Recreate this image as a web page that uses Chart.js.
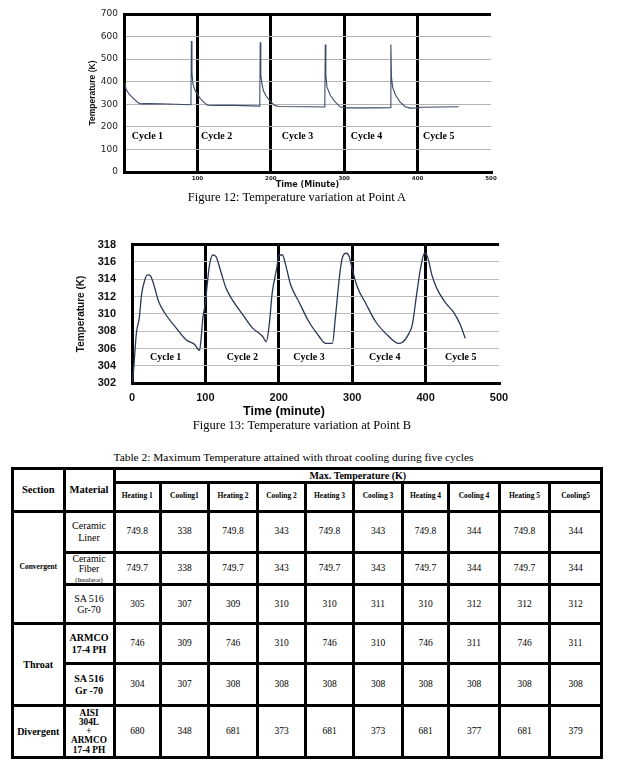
<!DOCTYPE html>
<html>
<head>
<meta charset="utf-8">
<script src="https://cdn.jsdelivr.net/npm/chart.js@4.4.1/dist/chart.umd.min.js"></script>
<style>
  html,body{margin:0;padding:0;background:#fff;}
  body{width:620px;height:764px;position:relative;overflow:hidden;}
  canvas{position:absolute;left:0;}
  .cap{position:absolute;text-align:center;font-family:'Liberation Serif','Times New Roman',serif;white-space:nowrap;color:#000;}
  table{position:absolute;left:11px;top:467px;border-collapse:collapse;table-layout:fixed;font-family:'Liberation Serif','Times New Roman',serif;color:#000;}
  td{border:3px solid #000;text-align:center;vertical-align:middle;padding:0;line-height:1.15;overflow:hidden;}
  .hd{font-weight:bold;font-size:7.5px;}
  .big{font-weight:bold;font-size:10.5px;}
  .val{font-size:9.5px;}
  .mat{font-size:10px;}
  .small{font-size:6.5px;}
</style>
</head>
<body>
<canvas id="chartA" width="620" height="192" style="top:0px"></canvas>
<div class="cap" style="left:0;width:594px;top:190px;font-size:12.5px;line-height:14px;">Figure 12: Temperature variation at Point A</div>
<canvas id="chartB" width="620" height="200" style="top:222px"></canvas>
<div class="cap" style="left:0;width:604px;top:418px;font-size:12.5px;line-height:14px;">Figure 13: Temperature variation at Point B</div>
<div class="cap" style="left:0;width:587px;top:451px;font-size:11.4px;line-height:13px;">Table 2: Maximum Temperature attained with throat cooling during five cycles</div>
<table id="tbl"></table>
<script>
// ---------- Data: Figure 12 (Point A) ----------
const timeA = [1,3,7,12,18,22,30,50,70,91.2,
  91.8,92.6,94,96,98,100,103,106,110,114,125,150,175,185,
  185.6,186.4,188,190,193,196,200,205,210,250,273.6,
  274.2,275,276.5,281,287.6,294.4,300,305,340,363,
  363.6,364.4,366,370,376,383,390,398,405,430,455.7];
const tempA = [395,365,345,328,310,302,303,302,300,298,
  580,440,390,368,355,345,330,318,305,296,295,295,293,292,
  575,430,390,360,340,326,311,296,290,289,288,
  565,430,377,340,311,289,285,284,284,285,
  565,420,375,340,311,289,283,284,287,288,289];
const ticksA = [0,100,200,300,400,500];

// ---------- Data: Figure 13 (Point B) ----------
const timeB = [1,3,6,10,13,17,21,25,31,36,
  44,60,74,85,92,94,96.5,100,102,105.5,
  110,114.5,121,128,137,151,164,178,183,187,
  191,197,200.5,205,209.5,216,228,241,255,264,
  273,277,282,286,292,296,300,307,318,332,
  350,363,368,377,382,388,393,398.5,403,408.5,
  415,427,438,447,454];
const tempB = [302.2,304.5,307.8,309.6,312.2,313.8,314.5,314.4,313,311.5,
  310.2,308.4,307,306.5,305.8,307,309.5,311.3,313,315.6,
  316.8,316.6,314.9,313,311.6,309.9,308.4,307.4,306.8,308.8,
  312.4,315.2,316.8,316.8,315.6,313.4,311.3,309.1,307.4,306.6,
  306.6,309.5,313.8,316.3,317,316.6,315.2,313.1,311.3,309.1,
  307.4,306.6,306.7,307.7,308.8,312.4,315.2,317,316.5,314.5,
  313,311.3,310.2,308.8,307.2];

const cycleNames = ["Cycle 1","Cycle 2","Cycle 3","Cycle 4","Cycle 5"];
const cycleBounds = [100,200,300,400];

// ---------- Data: Table 2 ----------
const tableGroupHeader = "Max. Temperature (K)";
const phaseHeaders = ["Heating 1","Cooling1","Heating 2","Cooling 2","Heating 3","Cooling 3","Heating 4","Cooling 4","Heating 5","Cooling5"];
const sections = ["Convergent","Throat","Divergent"];
const sectionRows = [3,2,1];
const materials = [["Ceramic","Liner"],["Ceramic","Fiber","(Insulator)"],["SA 516","Gr-70"],["ARMCO","17-4 PH"],["SA 516","Gr -70"],["AISI","304L","+","ARMCO","17-4 PH"]];
const maxTemps = [
  ["749.8","338","749.8","343","749.8","343","749.8","344","749.8","344"],
  ["749.7","338","749.7","343","749.7","343","749.7","344","749.7","344"],
  ["305","307","309","310","310","311","310","312","312","312"],
  ["746","309","746","310","746","310","746","311","746","311"],
  ["304","307","308","308","308","308","308","308","308","308"],
  ["680","348","681","373","681","373","681","377","681","379"]
];

// ---------- Plugin: cycle labels & custom axis title ----------
const overlayText = {
  id: 'overlayText',
  afterDatasetsDraw(chart, args, opts) {
    const {ctx, scales:{x,y}, chartArea} = chart;
    ctx.save();
    ctx.fillStyle = '#000';
    ctx.font = opts.font;
    ctx.textAlign = 'left';
    ctx.textBaseline = 'middle';
    cycleNames.forEach((t,i) => {
      ctx.fillText(t, x.getPixelForValue(opts.xs[i]), y.getPixelForValue(opts.y));
    });
    if (opts.xTitle) {
      ctx.font = opts.xTitle.font;
      ctx.textAlign = 'center';
      ctx.fillText(opts.xTitle.text, chartArea.left + opts.xTitle.frac*(chartArea.right-chartArea.left), chartArea.bottom + opts.xTitle.dy);
    }
    ctx.restore();
  }
};

function gridStyle(boundsSet){
  return {
    color: c => boundsSet.includes(c.tick.value) ? '#000' : 'rgba(0,0,0,0)',
    lineWidth: 3,
    drawTicks: false
  };
}

// ---------- Chart A ----------
new Chart(document.getElementById('chartA'), {
  type: 'line',
  data: { datasets: [{
    data: timeA.map((t,i)=>({x:t, y:tempA[i]})),
    borderColor: '#3c4a6a', borderWidth: 1.1, pointRadius: 0, tension: 0, fill: false
  }]},
  options: {
    responsive: false, animation: false, devicePixelRatio: 1,
    layout: { padding: { left: 85, top: 14, right: 129, bottom: 2 } },
    plugins: { legend:{display:false}, tooltip:{enabled:false},
      overlayText: { font: 'bold 10px "Liberation Serif", serif', xs: [10.5,104.8,215,309,407.5], y: 158 } },
    scales: {
      x: { type:'linear', min:0, max:500,
        afterBuildTicks: s => { s.ticks = ticksA.map(v=>({value:v})); },
        afterFit: s => { s.height = 18; },
        ticks: { padding: 3, font:{family:'"DejaVu Sans", sans-serif', size:5.5, weight:'bold'}, color:'#222',
          callback: v => v === 0 ? '' : v, maxRotation:0, autoSkip:false },
        grid: gridStyle(cycleBounds),
        border: { display:true, color:'#000', width:3 },
        title: { display:true, text:'Time (Minute)', padding:{top:0,bottom:0},
          font:{family:'"DejaVu Sans", sans-serif', size:8, weight:'bold'}, color:'#111' }
      },
      y: { min:0, max:700,
        ticks: { stepSize:100, padding:6, font:{family:'"DejaVu Sans", sans-serif', size:9}, color:'#222' },
        afterFit: s => { s.width = 39; },
        grid: { drawTicks:false,
          color: c => (c.tick.value === 700 || c.tick.value === 0) ? '#000' : '#b4b4b4',
          lineWidth: c => (c.tick.value === 700 || c.tick.value === 0) ? 3 : 1 },
        border: { display:true, color:'#000', width:3 },
        title: { display:true, text:'Temperature (K)', padding:{top:3,bottom:0},
          font:{family:'"Liberation Sans", Arial, sans-serif', size:8.5, weight:'bold'}, color:'#111' }
      }
    }
  },
  plugins: [overlayText]
});

// ---------- Chart B ----------
new Chart(document.getElementById('chartB'), {
  type: 'line',
  data: { datasets: [{
    data: timeB.map((t,i)=>({x:t, y:tempB[i]})),
    borderColor: '#2b3659', borderWidth: 1.3, pointRadius: 0, cubicInterpolationMode: 'monotone', fill: false
  }]},
  options: {
    responsive: false, animation: false, devicePixelRatio: 1,
    layout: { padding: { left: 75, top: 12, right: 121, bottom: 2.7 } },
    plugins: { legend:{display:false}, tooltip:{enabled:false},
      overlayText: { font: 'bold 10px "Liberation Serif", serif', xs: [24.5,129,219.8,323,426.5], y: 305,
        xTitle: { text:'Time (minute)', font:'bold 12.5px "Liberation Sans", Arial, sans-serif', frac:0.414, dy:28.4 } } },
    scales: {
      x: { type:'linear', min:0, max:500,
        afterBuildTicks: s => { s.ticks = ticksA.map(v=>({value:v})); },
        afterFit: s => { s.height = 36; },
        ticks: { padding: 8, font:{family:'"Liberation Sans", Arial, sans-serif', size:11, weight:'bold'}, color:'#111', maxRotation:0, autoSkip:false },
        grid: gridStyle(cycleBounds),
        border: { display:true, color:'#000', width:3 },
        title: { display:false }
      },
      y: { min:302, max:318,
        ticks: { stepSize:2, padding:16, font:{family:'"Liberation Sans", Arial, sans-serif', size:11, weight:'bold'}, color:'#111' },
        afterFit: s => { s.width = 57; },
        grid: { drawTicks:false,
          color: c => (c.tick.value === 318 || c.tick.value === 302) ? '#000' : '#bdbdbd',
          lineWidth: c => (c.tick.value === 318 || c.tick.value === 302) ? 3 : 1 },
        border: { display:true, color:'#000', width:3 },
        title: { display:true, text:'Temperature (K)', padding:{top:0.7,bottom:0},
          font:{family:'"Liberation Sans", Arial, sans-serif', size:10, weight:'bold'}, color:'#111' }
      }
    }
  },
  plugins: [overlayText]
});

// ---------- Table 2 ----------
(function buildTable(){
  const colW = [51.5,50,46.5,48,49,48,48,49,46,51,50,52];
  const rowH = [14,28.5,41.5,32,39,40,42,52];
  const tbl = document.getElementById('tbl');
  const cg = document.createElement('colgroup');
  colW.forEach(w => { const c = document.createElement('col'); c.style.width = w+'px'; cg.appendChild(c); });
  tbl.appendChild(cg);
  tbl.style.width = colW.reduce((a,b)=>a+b,0)+'px';

  const tr1 = document.createElement('tr'); tr1.style.height = rowH[0]+'px';
  const th1 = document.createElement('td'); th1.rowSpan = 2; th1.className='big'; th1.textContent='Section'; tr1.appendChild(th1);
  const th2 = document.createElement('td'); th2.rowSpan = 2; th2.className='big'; th2.textContent='Material'; tr1.appendChild(th2);
  const th3 = document.createElement('td'); th3.colSpan = phaseHeaders.length; th3.className='big'; th3.style.fontSize='10px'; th3.style.lineHeight='1'; th3.textContent=tableGroupHeader; tr1.appendChild(th3);
  tbl.appendChild(tr1);

  const tr2 = document.createElement('tr'); tr2.style.height = rowH[1]+'px';
  phaseHeaders.forEach(h => { const td = document.createElement('td'); td.className='hd'; td.textContent=h; tr2.appendChild(td); });
  tbl.appendChild(tr2);

  let matIdx = 0;
  sections.forEach((sec, si) => {
    for (let r = 0; r < sectionRows[si]; r++) {
      const tr = document.createElement('tr'); tr.style.height = rowH[2+matIdx]+'px';
      if (r === 0) {
        const td = document.createElement('td'); td.rowSpan = sectionRows[si];
        td.className = 'big'; td.style.fontSize = (sec === 'Convergent' ? '7.5px' : '10px');
        td.textContent = sec; tr.appendChild(td);
      }
      const mt = document.createElement('td'); mt.className='mat';
      if (si > 0) mt.style.fontWeight = 'bold';
      if (materials[matIdx].length > 4) { mt.style.lineHeight = '0.98'; mt.style.fontSize = '9.3px'; }
      else if (materials[matIdx].length > 2) { mt.style.lineHeight = '1.0'; mt.style.fontSize = '9.8px'; }
      materials[matIdx].forEach((line, li) => {
        if (li) mt.appendChild(document.createElement('br'));
        const sp = document.createElement('span'); sp.textContent = line;
        if (line.startsWith('(')) sp.className = 'small';
        mt.appendChild(sp);
      });
      tr.appendChild(mt);
      maxTemps[matIdx].forEach(v => { const td = document.createElement('td'); td.className='val'; td.textContent = v; tr.appendChild(td); });
      tbl.appendChild(tr);
      matIdx++;
    }
  });
})();
</script>
</body>
</html>
